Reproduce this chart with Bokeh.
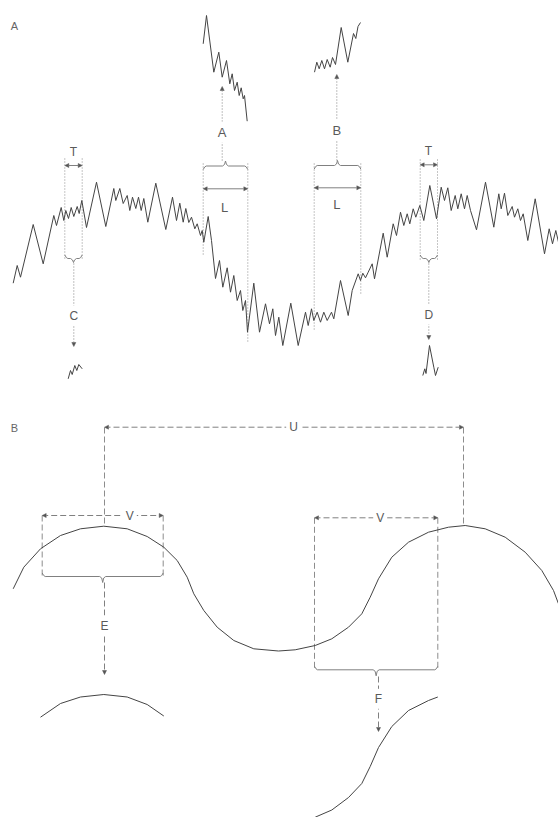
from bokeh.plotting import figure
from bokeh.models import Range1d, Arrow, NormalHead, Label
from bokeh.embed import file_html
from bokeh.resources import INLINE

# ---------------- data (page-pixel units, y grows downward) ----------------
# Panel A: noisy trace
sig_x = [12.7, 16.7, 20, 32.7, 42.7, 53.3, 56, 60.7, 63.3, 65.3, 68, 70.7, 73.3, 76.7, 78.7, 81.3, 86, 96,
         105.3, 113.3, 115.3, 119.3, 122.7, 126.7, 129.3, 132, 135.3, 138, 140.7, 143.3, 147.3, 155.3, 165.3,
         172, 176, 179.3, 182.7, 185.3, 188.3, 191, 194.3, 196.7, 200, 201.7, 203.3, 207.7, 211, 215, 219,
         222.3, 226.7, 230, 233.3, 236.7, 240, 242.3, 245, 247, 253.3, 259, 265, 269, 272.3, 275, 278.3,
         282.3, 290.3, 297.7, 305, 307.7, 311, 313.3, 316.7, 320, 323.3, 326.7, 331, 333.3, 340, 347.7,
         351.7, 357.7, 360, 362.3, 365, 367.7, 371.7, 374, 382.7, 386.7, 392.7, 396, 400, 403.3, 406.7,
         409.3, 412.7, 415.3, 419.3, 423.3, 429.3, 436, 440.7, 444, 447.3, 450.7, 454.7, 457.3, 460.7, 464,
         466.7, 470, 476, 485, 493.3, 498.3, 500.7, 504, 507.3, 511.7, 514, 517.3, 520, 522.7, 527.3, 534.7,
         544, 548.7, 552, 555.3, 558]
sig_y = [282.7, 265, 276.7, 224, 263.3, 215, 225, 207, 220, 210, 218, 207, 216, 206, 213, 200, 227, 181.7,
         226, 188, 200, 188, 203, 195, 210, 196.7, 208, 196.7, 210, 198, 221.7, 182.7, 229,
         196.7, 220, 202.7, 221.7, 208, 222, 216.7, 228.3, 223.3, 235, 230, 241.7, 216, 240, 278, 260,
         286.7, 267.3, 291.7, 275, 300, 290, 310, 300, 331.7, 282.7, 331.7, 303.3, 323.3, 308.3, 335, 316.7,
         345, 302.7, 345, 311.7, 325, 308.3, 320, 311.7, 321.7, 311.7, 320, 311.7, 318.3, 280, 315,
         290, 273.3, 280, 272.7, 277.3, 271.7, 263.3, 278.3, 232.7, 256.7, 223.3, 235, 211.7, 225, 213.3,
         223.3, 208.3, 216.7, 205, 220, 185, 218.3, 186.7, 200, 187.3, 210, 195, 208.3, 193.3, 208.3,
         195, 210, 229.3, 181.7, 226.7, 193.3, 208.3, 192.7, 215, 206, 216.7, 208.3, 220, 213.3, 240, 198.3,
         253.3, 228.3, 243.3, 230, 241.7]

# Panel A insets
insA_x = [202.7, 206, 213.3, 218.3, 221.7, 226, 229.3, 231.7, 234, 236.7, 238.7, 240.7, 242.7, 244, 246.7]
insA_y = [43.3, 15, 71.7, 51.7, 76.7, 60, 83.3, 73.3, 90, 81.7, 95, 87.3, 98.3, 95, 120.7]
insB_x = [314, 316.3, 318.7, 321.3, 324, 326.7, 329.7, 332, 335, 340.7, 347.3, 353, 355.3, 357.5, 360]
insB_y = [71.7, 61.7, 68.3, 60, 68.3, 59, 66.7, 57, 64, 27, 61.7, 33, 38, 26, 22]
insC_x = [67.7, 70, 71.7, 74.3, 76.3, 78.3, 81.7]
insC_y = [378.3, 370, 374, 365, 370, 364, 368.3]
insD_x = [422.3, 424.3, 425.5, 429, 433.3, 435, 437.7]
insD_y = [375, 368.3, 373, 345, 366.7, 375, 366.7]

# Panel B: smooth trace
crv_x = [12.7, 23.3, 40, 60, 80, 103.3, 126.7, 146.7, 163.3, 176.7, 186.7, 193.3, 203.3, 216.7, 233.3,
         253.3, 278, 294.7, 314.7, 331.3, 348, 361.3, 369.7, 378, 391.3, 408, 428, 448, 464.7, 484.7,
         504.7, 524.7, 541.3, 553, 558]
crv_y = [588.3, 566.7, 548.3, 535, 528.3, 525.7, 528.3, 536, 546.7, 560, 576.7, 593.3, 610, 626.7, 640,
         648.3, 650.5, 649.3, 645, 638.3, 626.7, 613.3, 596.7, 578.3, 556.7, 541.7, 531.7, 526.7, 525, 528.3,
         536.7, 551.7, 570, 590, 603.3]
insE_x = [40, 60, 80, 103.3, 126.7, 146.7, 163.3]
insE_y = [716.7, 703, 696.5, 694, 696.5, 704, 715.5]
insF_x = [314.7, 331.3, 348, 361.3, 369.7, 378, 391.3, 408, 428, 437.3]
insF_y = [816.7, 809.5, 797, 783, 766, 747, 726, 710, 700, 696.5]

# annotation geometry
# vertical guide lines: x, y_top, y_bottom, dash
guides = [
    (64.3, 158, 260, "1 2"), (81.7, 158, 260, "1 2"),
    (202.7, 163, 255, "1 2"), (247.3, 163, 342, "1 2"),
    (313.7, 163, 330, "1 2"), (360.3, 163, 293, "1 2"),
    (419.7, 159, 260, "1 2"), (437.0, 159, 260, "1 2"),
    (104, 427, 524, "6 3"), (463, 427, 524, "6 3"),
    (41.7, 515, 575, "6 3"), (162.7, 515, 575, "6 3"),
    (314, 517.3, 668, "6 3"), (437.3, 517.3, 668, "6 3"),
]
# braces: x0, x1, y, direction (-1 notch up, +1 notch down), notch
braces = [
    (202.7, 247.3, 165.5, -1, 5), (313.7, 360.3, 165.0, -1, 5),
    (64.3, 81.7, 258, 1, 4), (419.7, 437.0, 258, 1, 4),
    (41.7, 162.7, 576, 1, 6), (314, 437.3, 669.3, 1, 6),
]
# double arrows: x0, x1, y, dash
dbl = [
    (64.3, 81.7, 165, "solid"), (202.7, 247.3, 188.3, "solid"), (313.7, 360.3, 187.3, "solid"),
    (419.7, 437.0, 164.3, "solid"), (41.7, 162.7, 515, "6 3"), (314, 437.3, 517.3, "6 3"),
    (104, 463, 426.7, "6 3"),
]
# single arrows: x, y_from, y_to, dash
sgl = [
    (221.7, 160, 86, "1 2"), (336.3, 160, 74, "1 2"),
    (73.3, 263, 346, "1 2"), (428.3, 263, 339, "1 2"),
    (104, 582, 674, "6 3"), (378, 676, 731, "6 3"),
]
# labels: text, x, y, size
labels = [
    ("T", 73, 151, 12), ("T", 428, 150, 12), ("A", 221.7, 131.7, 13), ("B", 336.3, 130, 13),
    ("L", 224, 206.7, 13), ("L", 336.3, 204, 13), ("C", 73.3, 315, 12), ("D", 428.3, 314, 12),
    ("U", 293, 426.7, 12), ("V", 129.3, 515, 12), ("V", 379.7, 517.3, 12),
    ("E", 104, 625, 12), ("F", 378, 698.3, 12),
]
panels = [("A", 14, 25), ("B", 14, 427)]

# ---------------- drawing ----------------
W, H = 558, 817
INK = "#444444"
ANN = "#808080"
TXT = "#5a5a5a"

p = figure(width=W, height=H, x_range=Range1d(0, W), y_range=Range1d(H, 0),
           output_backend="svg", toolbar_location=None, min_border=0,
           x_axis_location=None, y_axis_location=None)
p.grid.visible = False
p.outline_line_color = None
p.background_fill_color = "white"

for x0, y0, y1, dash in guides:
    p.line([x0, x0], [y0, y1], line_color=ANN, line_width=0.9, line_dash=dash)

for x0, x1, y, d, n in braces:
    xc = (x0 + x1) / 2
    r = 3.5
    bx = [x0, x0 + 1.5, x0 + 3, xc - 3, xc - 1, xc, xc + 1, xc + 3, x1 - 3, x1 - 1.5, x1]
    by = [y - d * r, y - d * 1, y, y, y + d * 1.5, y + d * n, y + d * 1.5, y, y, y - d * 1, y - d * r]
    p.line(bx, by, line_color=ANN, line_width=1.0)

p.line(sig_x, sig_y, line_color=INK, line_width=1.0)
for xs, ys in [(insA_x, insA_y), (insB_x, insB_y), (insC_x, insC_y), (insD_x, insD_y)]:
    p.line(xs, ys, line_color=INK, line_width=1.0)
p.line(crv_x, crv_y, line_color=INK, line_width=1.0)
p.line(insE_x, insE_y, line_color=INK, line_width=1.0)
p.line(insF_x, insF_y, line_color=INK, line_width=1.0)

def head():
    return NormalHead(size=4, line_color="#555555", fill_color="#555555", line_width=0.5)

for x0, x1, y, dash in dbl:
    p.add_layout(Arrow(x_start=x0, y_start=y, x_end=x1, y_end=y, start=head(), end=head(),
                       line_color=ANN, line_width=1.0, line_dash=dash))
for x, y0, y1, dash in sgl:
    p.add_layout(Arrow(x_start=x, y_start=y0, x_end=x, y_end=y1, end=head(),
                       line_color=ANN, line_width=1.0, line_dash=dash))

for t, x, y, s in labels:
    p.add_layout(Label(x=x, y=y, text=t, text_align="center", text_baseline="middle",
                       text_font="Liberation Sans", text_font_size=f"{s}px", text_color=TXT,
                       background_fill_color="white", padding=3))
for t, x, y in panels:
    p.add_layout(Label(x=x, y=y, text=t, text_align="center", text_baseline="middle",
                       text_font="Liberation Sans", text_font_size="11px", text_color="#666666"))

open("out.html", "w").write(file_html(p, INLINE))
